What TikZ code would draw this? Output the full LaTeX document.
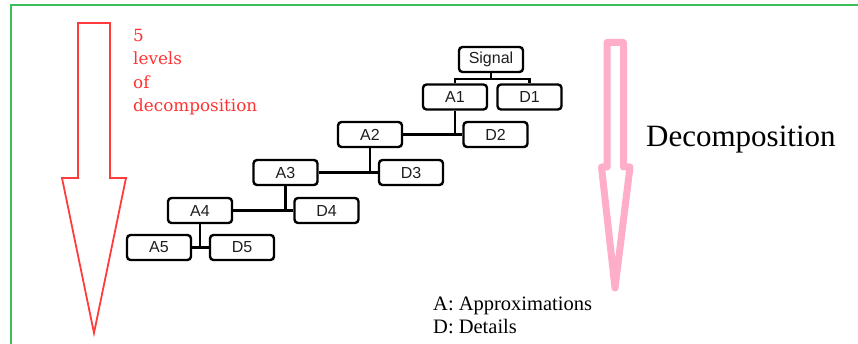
\documentclass[tikz,border=0pt]{standalone}
\usepackage{fontspec}
\newfontfamily\boxfont{Liberation Sans}
\newfontfamily\seriff{Liberation Serif}
\newfontfamily\redfont{DejaVu Serif}
\definecolor{framegreen}{RGB}{60,190,90}
\definecolor{arrowred}{RGB}{255,60,60}
\definecolor{textred}{RGB}{255,50,50}
\definecolor{arrowpink}{RGB}{255,174,201}
\definecolor{boxtext}{RGB}{30,30,30}
\begin{document}
\begin{tikzpicture}[x=1pt,y=-1pt,
  wbox/.style={draw=black,line width=2.4pt,rounded corners=3.5pt,minimum width=64pt,minimum height=25pt,inner sep=0pt,
    font=\boxfont\fontsize{16}{18}\selectfont,text=boxtext},
  link/.style={draw=black,line width=2.4pt},
  redtext/.style={anchor=base west,inner sep=0pt,text=textred,font=\redfont\fontsize{16.8}{20}\selectfont},
  serftext/.style={anchor=base west,inner sep=0pt,text=black}]
\useasboundingbox (0,0) rectangle (858,344);
% frame
\draw[framegreen,line width=2pt] (10.5,344) -- (10.5,5) -- (858,5);
% red arrow
\draw[arrowred,line width=1.8pt,line join=miter] (78,23) -- (110,23) -- (110,178) -- (126,178) -- (94,333) -- (62,178) -- (78,178) -- cycle;
\node[redtext] (r1) at (133,41.5) {5};
\node[redtext] (r2) at (133,65) {levels};
\node[redtext] (r3) at (133,89) {of};
\node[redtext] (r4) at (133,112) {decomposition};
% pink arrow
\draw[arrowpink,line width=7pt,line join=round] (607,42.5) -- (623.5,42.5) -- (623.5,167) -- (630,167) -- (615,288) -- (601.5,167) -- (607,167) -- cycle;
\node[serftext,font=\seriff\fontsize{31}{36}\selectfont] (dec) at (646,147) {Decomposition};
\node[serftext,font=\seriff\fontsize{20.5}{23}\selectfont] (legA) at (433,310) {A: Approximations};
\node[serftext,font=\seriff\fontsize{20.5}{23}\selectfont] (legD) at (433,333) {D: Details};
% boxes
\node[wbox] (S) at (491,59.5) {Signal};
\node[wbox] (A1) at (455,97) {A1};
\node[wbox] (D1) at (529.5,97) {D1};
\node[wbox] (A2) at (370,134.5) {A2};
\node[wbox] (D2) at (495.5,134.5) {D2};
\node[wbox] (A3) at (285.5,172.5) {A3};
\node[wbox] (D3) at (411,172.5) {D3};
\node[wbox] (A4) at (200,210.5) {A4};
\node[wbox] (D4) at (326.5,210.5) {D4};
\node[wbox] (A5) at (159,247.5) {A5};
\node[wbox] (D5) at (242,247.5) {D5};
% connectors
\coordinate (b0) at (491,79);
\draw[link] (S.south) -- (b0);
\draw[link] (A1.north) |- (b0) -| (D1.north);
\draw[link] (A1.south) -- (A1.south |- A2.east);
\draw[link] (A2.east) -- (D2.west);
\draw[link] (A2.south) -- (A2.south |- A3.east);
\draw[link] (A3.east) -- (D3.west);
\draw[link] (A3.south) -- (A3.south |- A4.east);
\draw[link] (A4.east) -- (D4.west);
\draw[link] (A4.south) -- (A4.south |- A5.east);
\draw[link] (A5.east) -- (D5.west);
\end{tikzpicture}
\end{document}
